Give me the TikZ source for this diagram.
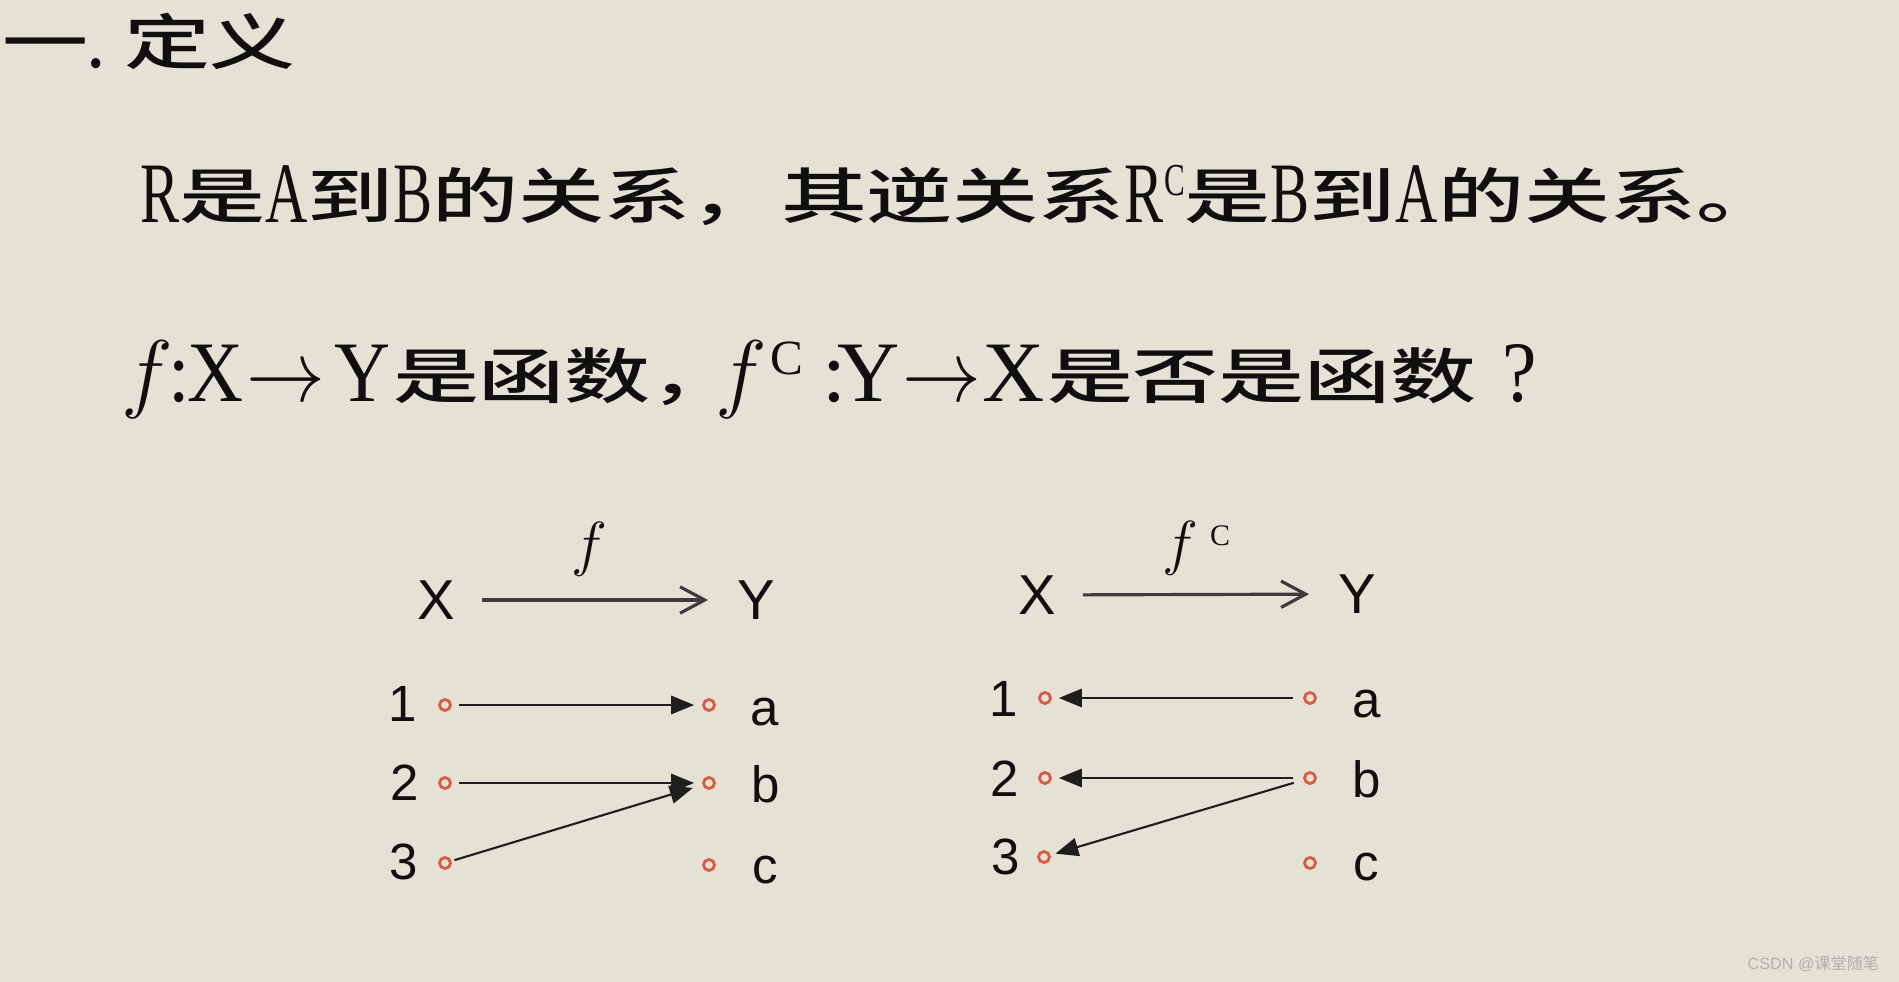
\documentclass[tikz,border=0pt]{standalone}
\usepackage{fontspec}
\usepackage{graphicx}
\usetikzlibrary{arrows.meta}
\setmainfont{Liberation Serif}
\IfFontExistsTF{Noto Sans CJK SC Medium}
  {\newfontfamily\cjk{Noto Sans CJK SC Medium}[FakeStretch=1.43]}
  {\newfontfamily\cjk{Noto Sans CJK SC}[FakeStretch=1.43,FakeBold=1.2]}
\newfontfamily\cjkwm{Noto Sans CJK SC}
\newfontfamily\latn{Liberation Serif}[FakeStretch=0.68]
\newfontfamily\latw{Liberation Serif}[FakeStretch=0.9]
\newfontfamily\latv{Liberation Serif}
\newfontfamily\sfl{Liberation Sans}
\definecolor{bg}{RGB}{230,225,213}
\definecolor{ink}{RGB}{15,15,15}
\definecolor{dotc}{RGB}{214,92,66}
\definecolor{arr}{RGB}{30,30,30}
\definecolor{toparr}{RGB}{60,60,60}
\definecolor{wm}{RGB}{178,176,170}
\newcommand\bigsz{\fontsize{24.5pt}{28pt}\selectfont}
\newcommand\zhsz{\fontsize{17.1pt}{20pt}\selectfont}
\newcommand\myzh[1]{{\cjk\zhsz\raisebox{0.06em}{#1}}}
\newcommand\mylatn[1]{{\latn\bigsz #1}}
\newcommand\supc{\raisebox{0.31em}{\fontsize{13pt}{15pt}\selectfont C}}
\newcommand\myarrow{{\bigsz\scalebox{0.9}[1]{$\rightarrow$}}}
\tikzset{
  txt/.style={inner sep=0pt, outer sep=0pt, anchor=base west, text=ink},
  lw/.style={txt, font=\latw\bigsz},
  lv/.style={txt, font=\latv\bigsz},
  lfi/.style={txt, font=\bigsz},
  lbl/.style={inner sep=0pt, text=ink, font=\sfl\fontsize{14.5pt}{17pt}\selectfont},
  setlbl/.style={inner sep=0pt, text=ink, font=\sfl\fontsize{16pt}{19pt}\selectfont},
  fl/.style={inner sep=0pt, text=ink, font=\fontsize{17pt}{20pt}\selectfont},
  pt/.style={circle, draw=dotc, line width=0.8pt, minimum size=0.11cm, inner sep=0pt},
  maparrow/.style={draw=toparr, line width=0.9pt, -{Straight Barb[length=7pt,width=7.5pt,line width=0.9pt]}, shorten <=0.265cm, shorten >=0.285cm},
  elarrow/.style={draw=arr, line width=0.6pt, -{Triangle[length=6.5pt,width=5.2pt]}}
}
\begin{document}
\begin{tikzpicture}[x=0.01cm,y=-0.01cm]
\fill[bg] (0,0) rectangle (1899,982);
\useasboundingbox (0,0) rectangle (1899,982);

% title
\node[txt] (t1) at (2,68) {\myzh{一}};
\node[lw] (t2) at (86,68) {.};
\node[txt] (t3) at (124,68) {\myzh{定义}};

% line 1
\node[txt] (l1a) at (140,222) {\mylatn{R}\myzh{是}\mylatn{A}\myzh{到}\mylatn{B}\myzh{的关系，}};
\node[txt] (l1b) at (781,222) {\myzh{其逆关系}\mylatn{R\supc}\myzh{是}\mylatn{B}\myzh{到}\mylatn{A}\myzh{的关系。}};

% line 2, first half
\node[lfi] (l2f) at (121,402) {$f$};
\node[lw] (l2c1) at (168,402) {:};
\node[lw] (l2x) at (187,402) {X};
\node[txt] (l2ar) at (246,402) {\myarrow};
\node[lw] (l2y) at (334,402) {Y};
\node[txt] (l2b) at (393,402) {\myzh{是函数，}};
% line 2, second half
\node[lfi] (l2f2) at (715,402) {$f$};
\node[txt, font=\latv\fontsize{14pt}{16pt}\selectfont] (l2sc) at (770,375) {C};
\node[lv] (l2c2) at (822,402) {:};
\node[lv] (l2y2) at (837,402) {Y};
\node[txt] (l2ar2) at (902,402) {\myarrow};
\node[lv] (l2x2) at (982,402) {X};
\node[txt] (l2d) at (1047,402) {\myzh{是否是函数}};
\node[lw] (l2e) at (1502,402) {?};

% left diagram
\node[setlbl] (X1) at (436,600) {X};
\node[setlbl] (Y1) at (756,600) {Y};
\node[fl] (f1) at (589,549) {$f$};
\draw[maparrow] (X1) -- (Y1);

\node[lbl] (n11) at (403,704) {1};
\node[lbl] (n12) at (405,783) {2};
\node[lbl] (n13) at (404,862) {3};
\node[lbl] (m1a) at (765,712) {a};
\node[lbl] (m1b) at (766,784) {b};
\node[lbl] (m1c) at (765,870) {c};
\node[pt] (p11) at (445,705) {};
\node[pt] (p12) at (445,783) {};
\node[pt] (p13) at (445,863) {};
\node[pt] (q1a) at (709,705) {};
\node[pt] (q1b) at (709,783) {};
\node[pt] (q1c) at (709,865) {};
\draw[elarrow, shorten <=0.07cm, shorten >=0.08cm] (p11) -- (q1a);
\draw[elarrow, shorten <=0.07cm, shorten >=0.08cm] (p12) -- (q1b);
\draw[elarrow, shorten <=0.03cm, shorten >=0.1cm] (p13) -- (q1b);

% right diagram
\node[setlbl] (X2) at (1037,595) {X};
\node[setlbl] (Y2) at (1357,594) {Y};
\node[fl] (f2) at (1180,548) {$f$};
\node[inner sep=0pt, text=ink, font=\latv\fontsize{8.5pt}{10pt}\selectfont] (c2) at (1220,536) {C};
\draw[maparrow] (X2) -- (Y2);

\node[lbl] (n21) at (1004,699) {1};
\node[lbl] (n22) at (1005,779) {2};
\node[lbl] (n23) at (1006,857) {3};
\node[lbl] (m2a) at (1367,704) {a};
\node[lbl] (m2b) at (1367,779) {b};
\node[lbl] (m2c) at (1366,867) {c};
\node[pt] (p21) at (1045,698) {};
\node[pt] (p22) at (1045,778) {};
\node[pt] (p23) at (1044,857) {};
\node[pt] (q2a) at (1310,698) {};
\node[pt] (q2b) at (1310,778) {};
\node[pt] (q2c) at (1310,863) {};
\draw[elarrow, shorten <=0.1cm, shorten >=0.07cm] (q2a) -- (p21);
\draw[elarrow, shorten <=0.1cm, shorten >=0.07cm] (q2b) -- (p22);
\draw[elarrow, shorten <=0.1cm, shorten >=0.05cm] (q2b) -- (p23);

% watermark
\node[inner sep=0pt, anchor=west, text=wm] (wm) at (1747,964) {{\sfl\fontsize{4.6pt}{5.5pt}\selectfont CSDN @}{\cjkwm\fontsize{4.6pt}{5.5pt}\selectfont 课堂随笔}};
\end{tikzpicture}
\end{document}
